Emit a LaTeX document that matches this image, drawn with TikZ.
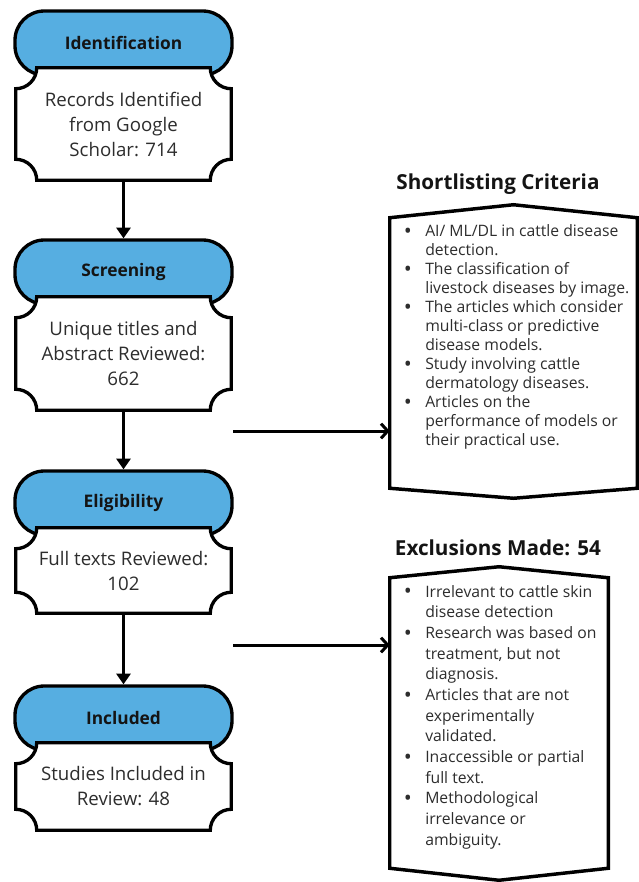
\documentclass[tikz,border=0pt]{standalone}
\usepackage{fontspec}
\setmainfont{Open Sans}
\usetikzlibrary{arrows.meta,calc}
\pgfdeclarelayer{bg}
\pgfdeclarelayer{mid}
\pgfsetlayers{bg,mid,main}
\definecolor{hdrblue}{RGB}{86,174,225}
\definecolor{txt}{RGB}{45,45,45}
\definecolor{ink}{RGB}{20,20,20}
\newcommand\ticket[1]{%
  \draw[tick] ($(#1.north west)+(21,0)$) -- ($(#1.north east)+(-21,0)$)
    .. controls ($(#1.north east)+(-21,11.6)$) and ($(#1.north east)+(-11.6,21)$) .. ($(#1.north east)+(0,21)$)
    -- ($(#1.south east)+(0,-21)$)
    .. controls ($(#1.south east)+(-11.6,-21)$) and ($(#1.south east)+(-21,-11.6)$) .. ($(#1.south east)+(-21,0)$)
    -- ($(#1.south west)+(21,0)$)
    .. controls ($(#1.south west)+(21,-11.6)$) and ($(#1.south west)+(11.6,-21)$) .. ($(#1.south west)+(0,-21)$)
    -- ($(#1.north west)+(0,21)$)
    .. controls ($(#1.north west)+(11.6,21)$) and ($(#1.north west)+(21,11.6)$) .. cycle;}
\newcommand\itm[1]{\makebox[15pt][l]{\hspace*{-1pt}\raisebox{-1.4pt}{\fontsize{16}{14}\selectfont\textbullet}}#1}
\newcommand\cnt[1]{\hspace*{15pt}#1}
\begin{document}
\begin{tikzpicture}[x=0.75pt,y=-0.75pt,
  hdr/.style={draw=black, line width=2.5pt, fill=hdrblue, rounded corners=22pt,
    minimum width=162.75pt, minimum height=48pt, inner sep=0pt,
    font=\fontsize{13}{16}\selectfont\bfseries, text=ink},
  body/.style={minimum width=161.25pt, inner sep=0pt, align=center,
    font=\fontsize{14}{18.75}\selectfont, text=txt},
  tick/.style={draw=black, line width=2.5pt, fill=white},
  crit/.style={minimum width=#1, inner sep=0pt},
  poly/.style={draw=black, line width=2.6pt, fill=white, line join=miter},
  listtext/.style={anchor=west, align=left, inner sep=0pt, text=txt},
  title/.style={font=\fontsize{15.5}{18}\selectfont\bfseries, text=ink},
  varrow/.style={line width=2.25pt, -{Triangle[width=10.5pt,length=8pt]}},
  harrow/.style={line width=2.25pt, -{Straight Barb[width=11pt,length=5pt]}}
]
\useasboundingbox (0,0) rectangle (639,882);

\begin{pgfonlayer}{bg}
\node[hdr] (h1) at (123.5,43) {Identification};
\node[hdr] (h2) at (123.5,272) {Screening};
\node[hdr] (h3) at (123.5,503) {Eligibility};
\node[hdr] (h4) at (123.5,718) {Included};
\end{pgfonlayer}

\node[body, minimum height=84pt] (b1) at (123.5,124) {Records Identified\\from Google\\Scholar: 714};
\node[body, minimum height=84.75pt] (b2) at (123.5,353.5) {Unique titles and\\Abstract Reviewed:\\662};
\node[body, minimum height=63.75pt] (b3) at (123.5,570.5) {Full texts Reviewed:\\102};
\node[body, minimum height=65.25pt] (b4) at (123.5,786.5) {Studies Included in\\Review: 48};

\begin{pgfonlayer}{mid}
\ticket{b1}
\ticket{b2}
\ticket{b3}
\ticket{b4}
\end{pgfonlayer}

\draw[varrow] (b1.south) -- (h2.north);
\draw[varrow] (b2.south) -- (h3.north);
\draw[varrow] (b3.south) -- (h4.north);

% right boxes
\node[title] (t1) at (498,184) {Shortlisting Criteria};
\node[title] (t2) at (498,548) {Exclusions Made: 54};

\node[crit=185.25pt, minimum height=202.5pt] (c1) at (513.5,353) {};
\node[crit=163.5pt, minimum height=217.5pt] (c2) at (499,723) {};
\begin{pgfonlayer}{mid}
\draw[poly] (c1.north west) -- ($(c1.north)+(0,-13)$) -- (c1.north east) -- (c1.south east) -- ($(c1.south)+(0,10)$) -- (c1.south west) -- cycle;
\draw[poly] (c2.north west) -- ($(c2.north)+(0,-11)$) -- (c2.north east) -- (c2.south east) -- ($(c2.south)+(0,12)$) -- (c2.south west) -- cycle;
\end{pgfonlayer}

\node[listtext, font=\fontsize{11.8}{14.2}\selectfont] (l1) at (405,337) {%
\itm{AI/ ML/DL in cattle disease}\\
\cnt{detection.}\\
\itm{The classification of}\\
\cnt{livestock diseases by image.}\\
\itm{The articles which consider}\\
\cnt{multi-class or predictive}\\
\cnt{disease models.}\\
\itm{Study involving cattle}\\
\cnt{dermatology diseases.}\\
\itm{Articles on the}\\
\cnt{performance of models or}\\
\cnt{their practical use.}};

\node[listtext, font=\fontsize{11.8}{15.5}\selectfont] (l2) at (405,717) {%
\itm{Irrelevant to cattle skin}\\
\cnt{disease detection}\\
\itm{Research was based on}\\
\cnt{treatment, but not}\\
\cnt{diagnosis.}\\
\itm{Articles that are not}\\
\cnt{experimentally}\\
\cnt{validated.}\\
\itm{Inaccessible or partial}\\
\cnt{full text.}\\
\itm{Methodological}\\
\cnt{irrelevance or}\\
\cnt{ambiguity.}};

\coordinate (s1) at (233,431);
\coordinate (s2) at (233,645);
\draw[harrow] (s1) -- (c1.west |- s1);
\draw[harrow] (s2) -- (c2.west |- s2);
\end{tikzpicture}
\end{document}
